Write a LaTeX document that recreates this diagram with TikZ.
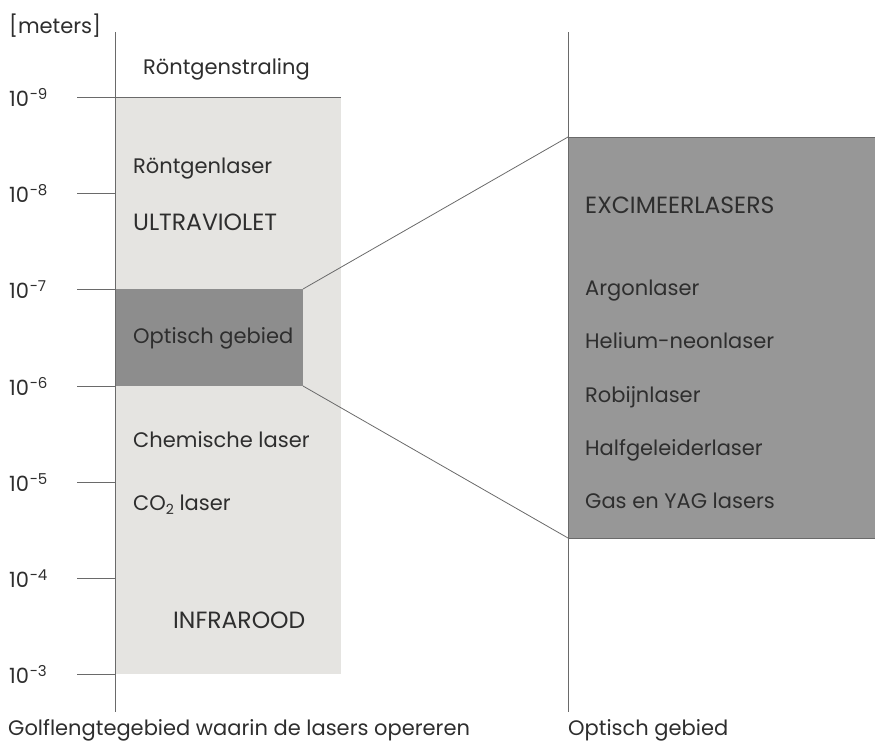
\documentclass[tikz,border=0pt]{standalone}
\usepackage{fontspec}
\setmainfont{Poppins}
\definecolor{txt}{HTML}{2E2E2E}
\definecolor{linec}{HTML}{6A6A6A}
\definecolor{lightbox}{HTML}{E5E4E1}
\definecolor{darkbox}{HTML}{8D8D8D}
\definecolor{bigbox}{HTML}{979797}
\newcommand\supx[1]{\kern0.5pt\raisebox{6.5pt}{\fontsize{15}{15}\selectfont #1}}
\newcommand\subx[1]{\raisebox{-4pt}{\fontsize{14}{14}\selectfont #1}}
\begin{document}
\begin{tikzpicture}[x=1pt,y=-1pt,
  lbl/.style={anchor=base west, inner sep=0pt, text=txt, font=\fontsize{21}{24}\selectfont},
  caps/.style={lbl, font=\fontsize{23.5}{26}\selectfont},
  ln/.style={draw=linec, line width=0.8pt},
  region/.style={anchor=north west, inner sep=0pt, outer sep=0pt, draw=none}]
\useasboundingbox (0,0) rectangle (875,750);
% regions
\node[region, fill=lightbox, minimum width=226pt, minimum height=577pt] (spec) at (115,97) {};
\node[region, fill=darkbox, minimum width=188pt, minimum height=97pt] (opt) at (115,289) {};
\node[region, fill=bigbox, minimum width=307pt, minimum height=401pt] (big) at (568,137) {};
% axes
\coordinate (a1t) at (115,32); \coordinate (a1b) at (115,712);
\coordinate (a2t) at (568,32); \coordinate (a2b) at (568,712);
\draw[ln] (a1t) -- (a1b);
\draw[ln] (a2t) -- (a2b);
% box edges
\draw[ln] (big.north west) -- (big.north east);
\draw[ln] (big.south west) -- (big.south east);
% ticks
\coordinate (t9) at (77,97);  \draw[ln] (t9) -- (spec.north east);
\foreach \y/\n in {193/8,289/7,386/6,482/5,578/4,674/3}{
  \coordinate (t\n) at (77,\y); \coordinate (e\n) at (115,\y);
  \draw[ln] (t\n) -- (e\n);
  \node[lbl] (l\n) at (9,\y+9) {10\supx{−\n}};
}
\node[lbl] (l9) at (9,97+9) {10\supx{−9}};
% connectors
\draw[ln] (opt.north east) -- (big.north west);
\draw[ln] (opt.south east) -- (big.south west);
% texts left
\node[lbl] (m) at (9,33) {[meters]};
\node[lbl] (rs) at (143,74) {Röntgenstraling};
\node[lbl] (rl) at (133,173) {Röntgenlaser};
\node[caps] (uvt) at (133,230) {ULTRAVIOLET};
\node[lbl] (og) at (133,343) {Optisch gebied};
\node[lbl] (cl) at (133,447) {Chemische laser};
\node[lbl] (co) at (133,510) {CO\subx{2} laser};
\node[caps] (ir) at (173,628) {INFRAROOD};
\node[lbl] (cap1) at (8,735) {Golflengtegebied waarin de lasers opereren};
% texts right
\node[caps] (ex) at (585,213) {EXCIMEERLASERS};
\node[lbl] (ar) at (585,295) {Argonlaser};
\node[lbl] (he) at (585,348) {Helium-neonlaser};
\node[lbl] (ro) at (585,402) {Robijnlaser};
\node[lbl] (ha) at (585,455) {Halfgeleiderlaser};
\node[lbl] (ga) at (585,508) {Gas en YAG lasers};
\node[lbl] (cap2) at (568,735) {Optisch gebied};
\end{tikzpicture}
\end{document}
